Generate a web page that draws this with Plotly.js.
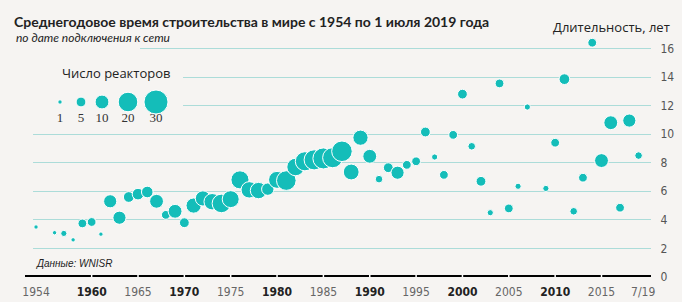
<!DOCTYPE html>
<html><head><meta charset="utf-8">
<script src="https://cdn.plot.ly/plotly-3.0.1.min.js"></script>
<style>html,body{margin:0;padding:0;background:#f6f4f2;}</style>
</head><body><div id="chart" style="width:682px;height:302px;"></div>
<script>
// ---- data ----
const years = [1954,1956,1957,1958,1959,1960,1961,1962,1963,1964,1965,1966,1967,1968,1969,1970,1971,1972,1973,1974,1975,1976,1977,1978,1979,1980,1981,1982,1983,1984,1985,1986,1987,1988,1989,1990,1991,1992,1993,1994,1995,1996,1997,1998,1999,2000,2001,2002,2003,2004,2005,2006,2007,2009,2010,2011,2012,2013,2014,2015,2016,2017,2018,2019];
const duration = [3.5,3.1,3.05,2.6,3.75,3.85,3.0,5.3,4.15,5.6,5.8,5.95,5.3,4.35,4.6,3.8,5.0,5.5,5.27,5.15,5.45,6.8,6.1,6.05,6.15,6.8,6.75,7.7,8.1,8.2,8.3,8.35,8.8,7.35,9.75,8.45,6.85,7.65,7.3,7.85,8.1,10.15,8.4,7.15,9.95,12.8,9.15,6.7,4.5,13.55,4.8,6.35,11.9,6.2,9.4,13.85,4.6,6.95,16.4,8.15,10.8,4.85,10.95,8.5];
const reactors = [1,1,2,1,4,4,1,9,9,6,7,7,10,4,10,5,12,12,14,18,15,17,14,14,8,15,20,16,19,21,23,21,22,13,12,10,3,5,9,4,4,5,2,4,4,5,3,5,2,4,4,2,2,2,4,6,3,4,4,10,10,4,9,3];
const tickYears = [1954,1960,1965,1970,1975,1980,1985,1990,1995,2000,2005,2010,2015,2019.5];
const tickLabels = ['1954','1960','1965','1970','1975','1980','1985','1990','1995','2000','2005','2010','2015','7/19'];
const boldTicks = ['1960','1970','1980','1990','2000','2010'];
const yTicks = [0,2,4,6,8,10,12,14,16];
const legendCounts = [1,5,10,20,30];
const legendLabels = ['1','5','10','20','30'];

// ---- layout geometry ----
const W = 682, H = 302, L = 25, R = 31, T = 27, B = 25;
const PW = W - L - R, PH = H - T - B;
const px = x => (x - L) / PW;
const py = y => 1 - (y - T) / PH;
const xRange = [1952.81, 2020.34];
const yRange = [0, 17.5];
const teal = '#14bdb9';
const bg = '#f6f4f2';
const sizeref = 0.104;
const legendPx = [60, 81, 102, 128, 156];   // legend key positions (page px)

const ticktext = tickLabels.map(t => boldTicks.includes(t)
  ? '<b><span style="color:#222">' + t + '</span></b>'
  : '<span style="color:#666">' + t + '</span>');

const traces = [
  {
    type: 'scatter', mode: 'markers', x: years, y: duration,
    marker: { size: reactors, sizemode: 'area', sizeref: sizeref, color: teal,
              line: { color: '#ffffff', width: 1 }, opacity: 1 },
    hoverinfo: 'x+y', showlegend: false
  },
  {
    type: 'scatter', mode: 'markers', xaxis: 'x2', yaxis: 'y2',
    x: legendPx, y: legendPx.map(() => 102),
    marker: { size: legendCounts, sizemode: 'area', sizeref: sizeref, color: teal, opacity: 1,
              line: { color: '#ffffff', width: 1 } },
    hoverinfo: 'skip', showlegend: false
  },
  {
    type: 'scatter', mode: 'text', xaxis: 'x2', yaxis: 'y2',
    x: legendPx, y: legendPx.map(() => 119), text: legendLabels,
    textfont: { family: 'Liberation Serif, DejaVu Serif, serif', size: 13, color: '#333333' },
    hoverinfo: 'skip', showlegend: false
  }
];

const shapes = [];
// cover gridlines behind the size legend and title area
shapes.push({ type: 'rect', layer: 'between', xref: 'x', yref: 'y', x0: xRange[0], x1: 1954 + (183 - 36) / 9.27, y0: 11, y1: 15, fillcolor: bg, line: { width: 0 } });
shapes.push({ type: 'rect', layer: 'between', xref: 'x', yref: 'y', x0: xRange[0], x1: 1954 + (140 - 36) / 9.27, y0: 15, y1: 17.5, fillcolor: bg, line: { width: 0 } });
shapes.push({ type: 'rect', layer: 'between', xref: 'x', yref: 'y', x0: xRange[0], x1: 1954 - 3 / 9.27, y0: 1, y1: 11, fillcolor: bg, line: { width: 0 } });
// thick black baseline
shapes.push({ type: 'line', layer: 'above', xref: 'paper', yref: 'y', x0: 0, x1: 1, y0: 0, y1: 0, line: { color: '#000', width: 4 } });
// white separators at ticks
tickYears.slice(1, -1).forEach(v => shapes.push({ type: 'line', layer: 'above', xref: 'x', yref: 'y', x0: v, x1: v, y0: -0.16, y1: 0.16, line: { color: '#fff', width: 1.5 } }));

const layout = {
  width: W, height: H,
  margin: { l: L, r: R, t: T, b: B, pad: 0 },
  paper_bgcolor: bg, plot_bgcolor: bg,
  showlegend: false,
  title: {
    text: '<b>Среднегодовое время строительства в мире с 1954 по 1 июля 2019 года</b>',
    font: { family: 'Lato, Open Sans, sans-serif', size: 14, color: '#222' },
    xref: 'container', yref: 'container', x: 14 / W, xanchor: 'left', y: 1 - 22 / H, yanchor: 'middle'
  },
  xaxis: {
    range: xRange, tickmode: 'array', tickvals: tickYears, ticktext: ticktext,
    showgrid: false, zeroline: false, showline: false, ticks: '', ticklabelstandoff: 6,
    tickfont: { family: 'Liberation Sans Narrow, DejaVu Sans Condensed, Liberation Sans, sans-serif', size: 12, color: '#666' },
    fixedrange: true
  },
  yaxis: {
    range: yRange, side: 'right', tickmode: 'array', tickvals: yTicks,
    showgrid: true, gridcolor: '#acdcd9', gridwidth: 1, zeroline: false, showline: false,
    ticks: 'outside', ticklen: 6, tickcolor: 'rgba(0,0,0,0)',
    tickfont: { family: 'Liberation Sans Narrow, DejaVu Sans Condensed, Liberation Sans, sans-serif', size: 12, color: '#555' },
    fixedrange: true
  },
  xaxis2: { overlaying: 'x', range: [L, W - R], visible: false, fixedrange: true },
  yaxis2: { overlaying: 'y', range: [H - B, T], visible: false, fixedrange: true },
  shapes: shapes,
  annotations: [
    { xref: 'paper', yref: 'paper', x: px(14), y: py(37), xanchor: 'left', yanchor: 'middle', showarrow: false,
      text: '<i>по дате подключения к сети</i>', font: { family: 'Lato, Open Sans, sans-serif', size: 12, color: '#222' } },
    { xref: 'paper', yref: 'paper', x: px(672), y: py(27), xanchor: 'right', yanchor: 'middle', showarrow: false,
      text: 'Длительность, лет', font: { family: 'Open Sans, sans-serif', size: 13, color: '#222' } },
    { xref: 'paper', yref: 'paper', x: px(116), y: py(73), xanchor: 'center', yanchor: 'middle', showarrow: false,
      text: 'Число реакторов', font: { family: 'Open Sans, sans-serif', size: 13, color: '#222' } },
    { xref: 'paper', yref: 'paper', x: px(34), y: py(263), xanchor: 'left', yanchor: 'middle', showarrow: false,
      text: '<i>Данные: WNISR</i>', font: { family: 'Liberation Sans, Arial, sans-serif', size: 10, color: '#222' } }
  ]
};

Plotly.newPlot('chart', traces, layout, { staticPlot: true, displayModeBar: false });
</script>
</body></html>
